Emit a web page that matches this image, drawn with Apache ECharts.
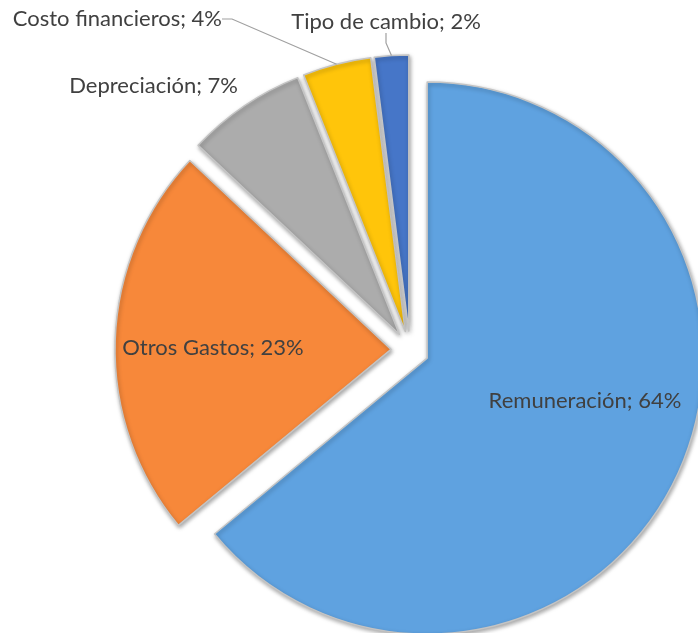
<!DOCTYPE html>
<html>
<head>
<meta charset="utf-8">
<script src="https://cdn.jsdelivr.net/npm/echarts@6/dist/echarts.min.js"></script>
<style>
html,body{margin:0;padding:0;background:#fff;}
#chart{width:698px;height:633px;}
</style>
</head>
<body>
<div id="chart"></div>
<script>
// categorias y porcentajes
var nombres = ['Remuneración', 'Otros Gastos', 'Depreciación', 'Costo financieros', 'Tipo de cambio'];
var valores = [64, 23, 7, 4, 2];
var colores = ['#5fa2e0', '#f7883a', '#acacac', '#ffc50a', '#4676c8'];

// donde va cada etiqueta: x, y, alineacion
var etiquetas = [
	[585, 401, 'center'],
	[213, 348, 'center'],
	[238, 86, 'right'],
	[222, 19, 'right'],
	[386, 22, 'center']
];

var separacion = 19;
var radio = 276;

var datos = nombres.map(function (n, i) {
	return {
		name: n,
		value: valores[i],
		selected: true,
		itemStyle: {color: colores[i]}
	};
});

// serie invisible solo para las etiquetas
var datosEtiq = nombres.map(function (n, i) {
	var d = {name: n, value: valores[i]};
	if (i < 2) {
		d.label = {position: 'inside'};
	}
	if (i <= 2) {
		d.labelLine = {show: false};
	}
	return d;
});

var option = {
	animation: false,
	series: [{
		type: 'pie',
		center: [410, 350],
		radius: radio,
		startAngle: 90,
		clockwise: true,
		selectedMode: 'multiple',
		selectedOffset: separacion,
		data: datos,
		itemStyle: {
			borderColor: '#c4c4c4',
			borderWidth: 1.5,
			shadowBlur: 4,
			shadowOffsetX: 1,
			shadowOffsetY: 2,
			shadowColor: 'rgba(0,0,0,0.35)'
		},
		select: {
			itemStyle: {borderColor: '#c4c4c4', borderWidth: 1.5}
		},
		emphasis: {disabled: true},
		label: {show: false},
		labelLine: {show: false}
	}, {
		type: 'pie',
		z: 5,
		silent: true,
		center: [410, 350],
		radius: radio + separacion,
		startAngle: 90,
		clockwise: true,
		data: datosEtiq,
		itemStyle: {color: 'rgba(0,0,0,0)'},
		emphasis: {disabled: true},
		label: {
			show: true,
			position: 'outside',
			overflow: 'none',
			fontFamily: 'Lato',
			fontSize: 22,
			color: '#404040',
			formatter: function (p) {
				return p.name + '; ' + Math.round(p.percent) + '%';
			}
		},
		labelLine: {
			show: true,
			length: 10,
			length2: 10,
			lineStyle: {color: '#a0a0a0', width: 1.2}
		},
		labelLayout: function (p) {
			var e = etiquetas[p.dataIndex];
			return {x: e[0], y: e[1], align: e[2], verticalAlign: 'middle'};
		}
	}]
};

var chart = echarts.init(document.getElementById('chart'));
chart.setOption(option);
</script>
</body>
</html>
